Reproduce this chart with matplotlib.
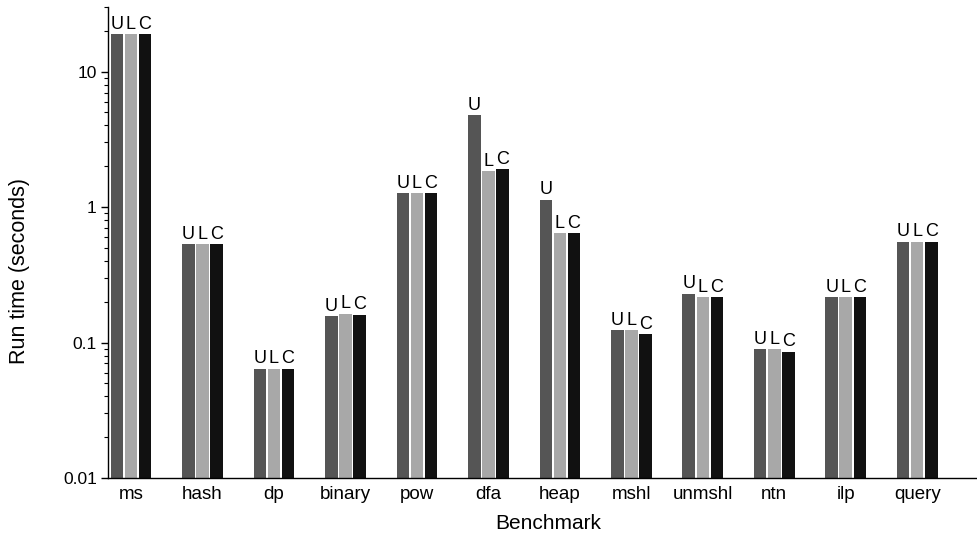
import numpy as np
import matplotlib
matplotlib.use('Agg')
import matplotlib.pyplot as plt
from matplotlib.ticker import LogLocator, NullFormatter, FixedLocator, FixedFormatter

benchmarks = ['ms', 'hash', 'dp', 'binary', 'pow', 'dfa', 'heap', 'mshl',
              'unmshl', 'ntn', 'ilp', 'query']
# run times in seconds
u_times = [18.8, 0.53, 0.064, 0.157, 1.26, 4.78, 1.13, 0.123, 0.229, 0.0888, 0.216, 0.555]
l_times = [18.8, 0.53, 0.064, 0.163, 1.26, 1.84, 0.64, 0.123, 0.216, 0.0888, 0.216, 0.555]
c_times = [18.8, 0.53, 0.064, 0.160, 1.26, 1.90, 0.64, 0.115, 0.216, 0.0853, 0.216, 0.555]
series_names = ['U', 'L', 'C']
series_colors = ['#555555', '#a8a8a8', '#111111']

plt.rcParams['font.family'] = ['Liberation Sans', 'DejaVu Sans']

fig = plt.figure(figsize=(9.78, 5.39), dpi=100)
ax = fig.add_axes([0.1104, 0.1132, 0.8896, 0.874])
ax.set_yscale('log')

x = np.arange(len(benchmarks))
step = 0.196
width = 0.175
for k, (name, vals, col) in enumerate(zip(series_names, [u_times, l_times, c_times], series_colors)):
    pos = x + (k - 1) * step
    ax.bar(pos, vals, width=width, color=col, edgecolor='none')
    for xp, v in zip(pos, vals):
        ax.annotate(name, (xp, v), xytext=(0, 1), textcoords='offset points',
                    ha='center', va='bottom', fontsize=13)

ax.set_ylim(0.01, 30)
ax.set_xlim(-0.32, 11.85)

ax.yaxis.set_major_locator(FixedLocator([0.01, 0.1, 1, 10]))
ax.yaxis.set_major_formatter(FixedFormatter(['0.01', '0.1', '1', '10']))
ax.yaxis.set_minor_locator(LogLocator(base=10, subs=np.arange(2, 10)))
ax.yaxis.set_minor_formatter(NullFormatter())
ax.tick_params(axis='y', which='major', length=5, width=1, labelsize=12.5, pad=3)
ax.tick_params(axis='y', which='minor', length=3, width=0.8)

ax.set_xticks(x)
ax.set_xticklabels(benchmarks)
ax.tick_params(axis='x', length=0, labelsize=13.5, pad=6)

ax.spines['top'].set_visible(False)
ax.spines['right'].set_visible(False)
ax.spines['left'].set_linewidth(1)
ax.spines['bottom'].set_linewidth(1)

ax.set_xlabel('Benchmark', fontsize=15)
ax.set_ylabel('Run time (seconds)', fontsize=15.5)
ax.xaxis.set_label_coords(0.506, -0.076)
ax.yaxis.set_label_coords(-0.09, 0.44)

fig.savefig('out.png', dpi=100)
